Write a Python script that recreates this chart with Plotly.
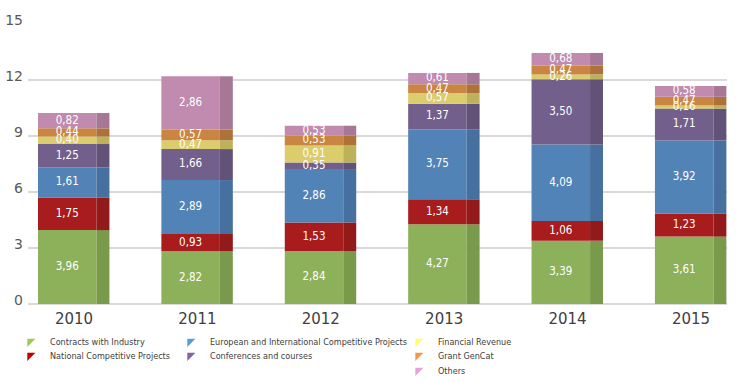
import plotly.graph_objects as go

years = ['2010', '2011', '2012', '2013', '2014', '2015']
series_names = ['Contracts with Industry', 'National Competitive Projects',
                'European and International Competitive Projects', 'Conferences and courses',
                'Financial Revenue', 'Grant GenCat', 'Others']
contracts = [3.96, 2.82, 2.84, 4.27, 3.39, 3.61]
national = [1.75, 0.93, 1.53, 1.34, 1.06, 1.23]
european = [1.61, 2.89, 2.86, 3.75, 4.09, 3.92]
conferences = [1.25, 1.66, 0.35, 1.37, 3.50, 1.71]
financial = [0.40, 0.47, 0.91, 0.57, 0.26, 0.16]
gencat = [0.44, 0.57, 0.53, 0.47, 0.47, 0.47]
others = [0.82, 2.86, 0.53, 0.61, 0.68, 0.58]
series_values = [contracts, national, european, conferences, financial, gencat, others]
y_ticks = [0, 3, 6, 9, 12, 15]

front_colors = ['#8DB05A', '#A81C1E', '#5283B6', '#735F8B', '#DBCD6C', '#C98541', '#C08BAF']
side_colors = ['#7A9A4B', '#931A1B', '#4670A0', '#625278', '#BDB25A', '#AE7138', '#A67895']
legend_colors = ['#9BCB50', '#C00000', '#5B9BD5', '#8064A2', '#FFFF66', '#F79646', '#E6A3D2']

xs = list(range(len(years)))
FRONT_OFF, FRONT_W = -0.292, 0.474
SIDE_OFF, SIDE_W = 0.182, 0.105

fig = go.Figure()
base = [0.0] * len(years)
label_x, label_y, label_t = [], [], []
for i, vals in enumerate(series_values):
    fig.add_trace(go.Bar(x=xs, y=vals, base=base, width=FRONT_W, offset=FRONT_OFF,
                         marker=dict(color=front_colors[i], line=dict(width=0)),
                         showlegend=False, hoverinfo='skip'))
    fig.add_trace(go.Bar(x=xs, y=vals, base=base, width=SIDE_W, offset=SIDE_OFF,
                         marker=dict(color=side_colors[i], line=dict(width=0)),
                         showlegend=False, hoverinfo='skip'))
    for j, v in enumerate(vals):
        label_x.append(xs[j] + FRONT_OFF + FRONT_W / 2)
        label_y.append(base[j] + v / 2)
        label_t.append(f'{v:.2f}'.replace('.', ','))
    base = [b + v for b, v in zip(base, vals)]

fig.add_trace(go.Scatter(x=label_x, y=label_y, text=label_t, mode='text',
                         textfont=dict(color='white', size=11.5,
                                       family='DejaVu Sans Condensed, DejaVu Sans, sans-serif'),
                         showlegend=False, hoverinfo='skip'))

# legend layout: (column left px of legend box, row top px)
leg_cols = [10, 10, 170, 170, 398, 398, 398]
leg_rows = [327, 341, 327, 341, 327, 341, 356]
leg_font = dict(size=9, color='#404040',
                family='DejaVu Sans Condensed, Liberation Sans Narrow, Liberation Sans, sans-serif')
legends = {}
for i, name in enumerate(series_names):
    key = 'legend' if i == 0 else f'legend{i + 1}'
    fig.add_trace(go.Scatter(x=[None], y=[None], mode='markers', name=name,
                             marker=dict(symbol='triangle-nw', size=9, color=legend_colors[i]),
                             legend=key))
    legends[key] = dict(orientation='v', yanchor='top', xanchor='left', font=leg_font,
                        bgcolor='rgba(0,0,0,0)', itemwidth=30,
                        x=(leg_cols[i] - 28) / 699, y=(304 - leg_rows[i]) / 280)

fig.update_layout(
    barmode='overlay',
    width=739, height=385,
    margin=dict(l=28, r=12, t=24, b=81, autoexpand=False),
    paper_bgcolor='white', plot_bgcolor='white',
    xaxis=dict(range=[-0.373, 5.292], tickvals=xs, ticktext=years, showgrid=False,
               zeroline=False, showline=False, ticks='', ticklabelstandoff=4,
               tickfont=dict(size=15, color='#404040', family='DejaVu Sans, sans-serif')),
    yaxis=dict(range=[0, 15], tickvals=y_ticks, showgrid=True, gridcolor='#D9D9D9',
               gridwidth=1.5, zeroline=True, zerolinecolor='#D9D9D9', zerolinewidth=1.5,
               showline=False, ticks='', ticklabelshift=-4, ticklabelstandoff=4,
               tickfont=dict(size=14, color='#595959', family='DejaVu Sans, sans-serif')),
    **legends,
)

fig.write_html('out.html', config={'displayModeBar': False},
               post_script="document.body.style.margin='0';document.body.style.overflow='hidden';")
